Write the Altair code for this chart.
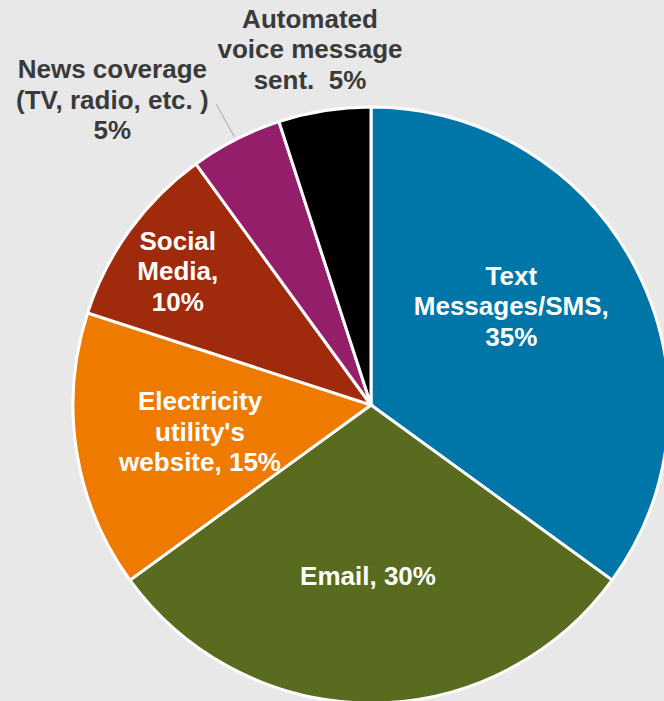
import math
import altair as alt
import pandas as pd

# ---- data ----
categories = [
    "Text Messages/SMS",
    "Email",
    "Electricity utility's website",
    "Social Media",
    "News coverage (TV, radio, etc. )",
    "Automated voice message sent.",
]
shares = [35, 30, 15, 10, 5, 5]
label_texts = [
    "Text\nMessages/SMS,\n35%",
    "Email, 30%",
    "Electricity\nutility's\nwebsite, 15%",
    "Social\nMedia,\n10%",
    "News coverage\n(TV, radio, etc. )\n5%",
    "Automated\nvoice message\nsent. \u00a05%",
]

# ---- style / layout ----
slice_colors = ["#0076A8", "#586B1E", "#EE7A00", "#A02B0C", "#941E69", "#000000"]
label_colors = ["#ffffff", "#ffffff", "#ffffff", "#ffffff", "#3a3a3a", "#3a3a3a"]
# polar position (deg clockwise from north, px) of each label's first line
label_angle_deg = [47.6, 181.0, 271.0, 310.2, 322.3, 351.0]
label_radius = [190, 172, 171, 253, 423, 390]

W, H = 664, 701
CX, CY, R = 371, 405, 298
BG = "#e8e8e8"

df = pd.DataFrame({
    "category": categories,
    "share": shares,
    "order": list(range(len(categories))),
    "label": label_texts,
    "la": [math.radians(a) for a in label_angle_deg],
    "lr": label_radius,
    "tc": label_colors,
})

base = alt.Chart(df)

pie = base.mark_arc(outerRadius=R, stroke="white", strokeWidth=3).encode(
    theta=alt.Theta("share:Q", stack=True),
    order=alt.Order("order:Q"),
    color=alt.Color("category:N", scale=alt.Scale(domain=categories, range=slice_colors), legend=None),
    x=alt.value(CX),
    y=alt.value(CY),
)

text = base.mark_text(
    font="Liberation Sans", fontWeight="bold", fontSize=26, lineHeight=30.5,
    lineBreak="\n", align="center", baseline="middle",
).encode(
    theta=alt.Theta("la:Q", scale=None),
    radius=alt.Radius("lr:Q", scale=None),
    text="label:N",
    color=alt.Color("tc:N", scale=None),
    x=alt.value(CX),
    y=alt.value(CY),
)

# leader line for the "News coverage" label
news_i = 4
mid_frac = (sum(shares[:news_i]) + shares[news_i] / 2) / sum(shares)
a_mid = 2 * math.pi * mid_frac
ex, ey = CX + (R + 3) * math.sin(a_mid), CY - (R + 3) * math.cos(a_mid)
la = math.radians(label_angle_deg[news_i])
lx = CX + label_radius[news_i] * math.sin(la) + 104
ly = CY - label_radius[news_i] * math.cos(la) + 34
leader = alt.Chart(pd.DataFrame({"k": [0]})).mark_rule(color="#a6a6a6", strokeWidth=1).encode(
    x=alt.value(lx), y=alt.value(ly), x2=alt.value(ex), y2=alt.value(ey)
)

chart = (
    alt.layer(pie, leader, text)
    .properties(width=W, height=H, background=BG, padding=0, autosize=alt.AutoSizeParams(type="none"))
    .configure_view(stroke=None)
)

chart.save("out.html", embed_options={"renderer": "svg", "actions": False})
